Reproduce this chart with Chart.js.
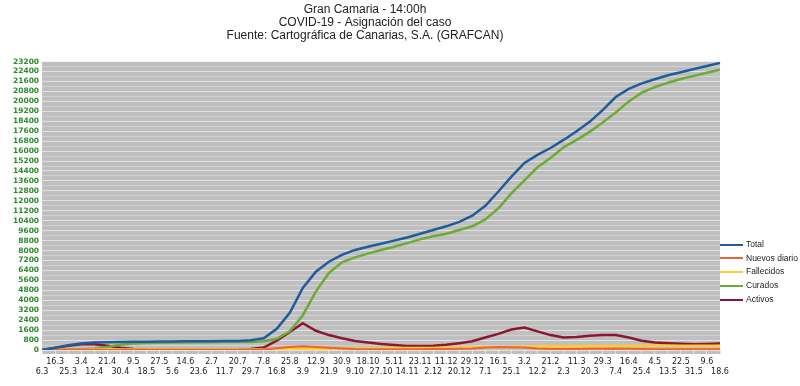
<!doctype html>
<html lang="es">
<head>
<meta charset="utf-8">
<title>Gran Canaria COVID-19</title>
<script src="https://cdn.jsdelivr.net/npm/chart.js@4.4.1/dist/chart.umd.min.js"></script>
<style>
  body { margin: 0; background: #fff; }
  #wrap { position: relative; width: 800px; height: 386px; }
  #leyenda { position: absolute; left: 720px; top: 238px; font: 8.5px "Liberation Sans", Arial, sans-serif; color: #222; }
  #leyenda div { height: 13.7px; line-height: 13.7px; white-space: nowrap; }
  #leyenda span { display: inline-block; width: 23px; height: 2px; vertical-align: middle; margin-right: 3px; }
</style>
</head>
<body>
<div id="wrap">
  <canvas id="grafico" width="800" height="386"></canvas>
  <div id="leyenda"></div>
</div>
<script>
var fechas = ['6.3','16.3','25.3','3.4','12.4','21.4','30.4','9.5','18.5','27.5',
  '5.6','14.6','23.6','2.7','11.7','20.7','29.7','7.8','16.8','25.8',
  '3.9','12.9','21.9','30.9','9.10','18.10','27.10','5.11','14.11','23.11',
  '2.12','11.12','20.12','29.12','7.1','16.1','25.1','3.2','12.2','21.2',
  '2.3','11.3','20.3','29.3','7.4','16.4','25.4','4.5','13.5','22.5',
  '31.5','9.6','18.6'];

var total = [0,180,380,530,600,630,650,660,670,680,
  690,695,700,705,715,730,780,950,1700,3000,
  5000,6300,7100,7650,8050,8300,8550,8800,9050,9350,
  9650,9950,10300,10800,11600,12750,13950,15050,15700,16250,
  16900,17600,18350,19300,20350,21000,21450,21780,22100,22350,
  22600,22850,23100];

var nuevos = [0,30,40,35,20,10,5,3,2,2,
  2,2,2,2,3,8,15,40,150,250,
  300,250,180,120,80,70,60,60,60,70,
  80,90,100,130,200,250,230,200,120,90,
  80,90,100,110,120,100,80,70,60,60,
  60,60,70];

var fallecidos = [0,5,15,25,35,40,42,43,43,44,
  44,44,44,44,44,45,45,46,50,60,
  70,85,100,115,125,135,145,155,160,165,
  170,180,190,200,215,230,250,270,285,295,
  305,310,315,320,325,330,333,336,340,343,
  345,348,350];

var curados = [0,10,20,40,100,250,420,530,570,590,
  600,610,620,630,635,640,650,700,900,1500,
  2800,4700,6200,7050,7450,7750,8050,8300,8600,8900,
  9150,9350,9650,9950,10500,11400,12600,13650,14700,15450,
  16300,16900,17550,18300,19100,20000,20700,21150,21500,21800,
  22050,22300,22550];

var activos = [0,170,350,470,460,340,190,90,55,45,
  45,40,35,30,35,45,85,200,750,1450,
  2150,1550,1200,950,720,600,490,400,330,320,
  350,420,550,700,1000,1300,1650,1800,1500,1200,
  1000,1050,1150,1200,1200,1000,750,600,540,500,
  460,480,520];

var series = [
  { label: 'Total', data: total, color: '#1f5c9c', width: 2.5 },
  { label: 'Nuevos diario', data: nuevos, color: '#f2622a', width: 2 },
  { label: 'Fallecidos', data: fallecidos, color: '#ffcc2e', width: 2.5 },
  { label: 'Curados', data: curados, color: '#6dab35', width: 2.5 },
  { label: 'Activos', data: activos, color: '#8b1732', width: 2.5 }
];

var fondo = {
  id: 'fondo',
  beforeDraw: function(chart) {
    var a = chart.chartArea, ctx = chart.ctx;
    ctx.save();
    ctx.fillStyle = '#bfbfbf';
    ctx.fillRect(a.left, a.top, a.right - a.left, a.bottom - a.top + 4);
    ctx.restore();
  }
};

var chart = new Chart(document.getElementById('grafico'), {
  type: 'line',
  data: {
    labels: fechas,
    datasets: series.map(function(s) {
      return {
        label: s.label,
        data: s.data,
        borderColor: s.color,
        backgroundColor: s.color,
        borderWidth: s.width,
        pointRadius: 0,
        tension: 0
      };
    })
  },
  plugins: [fondo],
  options: {
    responsive: false,
    animation: false,
    layout: { padding: { left: 10, right: 80, bottom: 6, top: 0 } },
    plugins: {
      legend: { display: false },
      tooltip: { enabled: false },
      title: {
        display: true,
        text: ['Gran Camaria - 14:00h', 'COVID-19 - Asignación del caso', 'Fuente: Cartográfica de Canarias, S.A. (GRAFCAN)'],
        color: '#222',
        font: { family: 'Liberation Sans', size: 12, weight: 'normal', lineHeight: 1.1 },
        padding: { top: 3, bottom: 19 }
      }
    },
    scales: {
      x: {
        border: { display: false },
        grid: { drawOnChartArea: false, drawTicks: true, tickLength: 4, color: '#e2e2e2' },
        ticks: {
          autoSkip: false,
          maxRotation: 0,
          minRotation: 0,
          padding: 3,
          color: '#222',
          font: { family: 'DejaVu Sans', size: 8, lineHeight: 1.25 },
          callback: function(v, i) {
            var l = fechas[i];
            return i % 2 === 0 ? ['', l] : [l, ''];
          }
        }
      },
      y: {
        min: 0,
        max: 23200,
        border: { display: false },
        grid: {
          drawTicks: false,
          color: function(c) {
            return c.tick && c.tick.value % 800 === 0 ? 'rgba(255,255,255,0.55)' : 'rgba(255,255,255,0.28)';
          }
        },
        ticks: {
          stepSize: 400,
          autoSkip: false,
          padding: 3,
          color: '#2b8c2b',
          font: { family: 'DejaVu Sans', size: 7.5, weight: 'bold' },
          callback: function(v) { return v % 800 === 0 ? v : ''; }
        }
      }
    }
  }
});

var ley = document.getElementById('leyenda');
series.forEach(function(s) {
  var d = document.createElement('div');
  var sp = document.createElement('span');
  sp.style.background = s.color;
  d.appendChild(sp);
  d.appendChild(document.createTextNode(s.label));
  ley.appendChild(d);
});
</script>
</body>
</html>
